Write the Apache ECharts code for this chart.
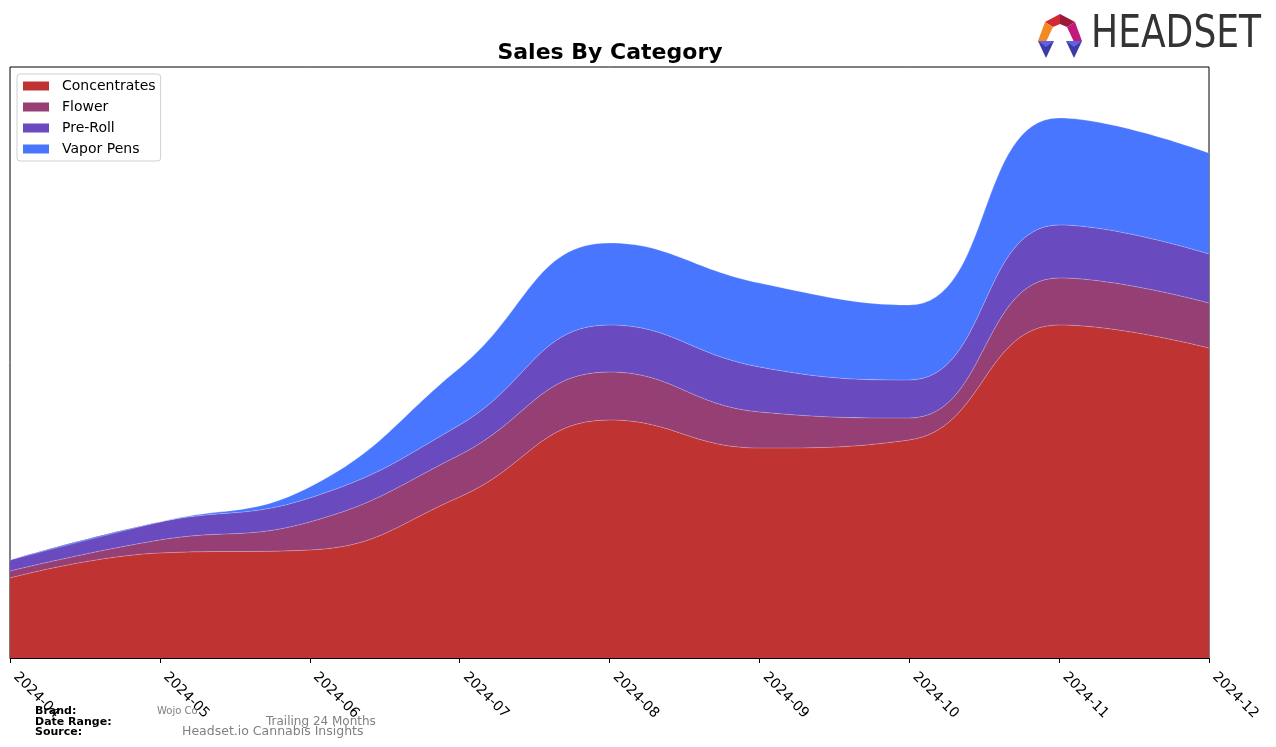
<!DOCTYPE html>
<html>
<head>
<meta charset="utf-8">
<script src="https://cdn.jsdelivr.net/npm/echarts@6/dist/echarts.min.js"></script>
<style>
  html, body { margin: 0; padding: 0; background: #fff; }
  #chart { width: 1276px; height: 747px; }
</style>
</head>
<body>
<div id="chart"></div>
<script>
// monthly points
const months = ['2024-04', '2024-05', '2024-06', '2024-07', '2024-08',
    '2024-09', '2024-10', '2024-11', '2024-12']
const concentrates = [8000, 10500, 10800, 16100, 23800, 21000, 21800, 33300, 31000]
const flower = [700, 1300, 2800, 4200, 4800, 3600, 2200, 4700, 4500]
const preRoll = [1100, 1800, 2400, 3000, 4700, 4500, 3800, 5300, 4900]
const vaporPens = [0, 0, 1100, 5700, 8200, 8400, 7500, 10700, 10100]

const seriesNames = ['Concentrates', 'Flower', 'Pre-Roll', 'Vapor Pens']
const seriesColors = ['#c03333', '#963f74', '#6a4bbf', '#4876ff']

const chart = echarts.init(document.getElementById('chart'))

const makeSeries = (name, values, color) => ({
    name: name,
    type: 'line',
    stack: 'sales',
    smooth: 0.45,
    showSymbol: false,
    lineStyle: { width: 0.7, color: 'rgba(255,255,255,0.35)' },
    itemStyle: { color: color },
    areaStyle: { color: color, opacity: 1 },
    data: values,
})

const footerText = (text, x, y, style) => ({
    type: 'text',
    left: x,
    top: y,
    style: Object.assign({ text: text, fontFamily: 'DejaVu Sans' }, style),
    z: 100,
})

chart.setOption({
    animation: false,
    title: {
        text: 'Sales By Category',
        left: 605,
        top: 37,
        textAlign: 'center',
        textStyle: {
            fontFamily: 'DejaVu Sans',
            fontSize: 22,
            fontWeight: 'bold',
            color: '#000',
        },
    },
    legend: {
        orient: 'vertical',
        left: 17,
        top: 74,
        padding: [5, 5, 5, 6],
        itemGap: 7,
        itemWidth: 26,
        itemHeight: 9,
        icon: 'rect',
        backgroundColor: 'rgba(255,255,255,0.8)',
        borderColor: '#d0d0d0',
        borderWidth: 1,
        borderRadius: 3,
        textStyle: {
            fontFamily: 'DejaVu Sans',
            fontSize: 14,
            lineHeight: 14,
            color: '#000',
            padding: [0, 0, 0, 8],
        },
        data: seriesNames,
    },
    grid: {
        left: 10,
        top: 67,
        width: 1199,
        height: 591,
        show: true,
        borderColor: '#000',
        borderWidth: 1,
        backgroundColor: 'transparent',
    },
    xAxis: {
        type: 'category',
        boundaryGap: false,
        data: months,
        axisLine: { lineStyle: { color: '#000', width: 1 } },
        axisTick: {
            show: true,
            length: 5,
            lineStyle: { color: '#000' },
        },
        axisLabel: {
            rotate: -45,
            margin: 11,
            padding: [0, 0, 0, 8],
            interval: 0,
            fontFamily: 'DejaVu Sans',
            fontSize: 14,
            color: '#000',
        },
        splitLine: { show: false },
    },
    yAxis: {
        type: 'value',
        min: 0,
        max: 59100,
        show: false,
        splitLine: { show: false },
    },
    series: [
        makeSeries(seriesNames[0], concentrates, seriesColors[0]),
        makeSeries(seriesNames[1], flower, seriesColors[1]),
        makeSeries(seriesNames[2], preRoll, seriesColors[2]),
        makeSeries(seriesNames[3], vaporPens, seriesColors[3]),
    ],
    graphic: [
        // HEADSET logo
        {
            type: 'group',
            left: 1038,
            top: 14,
            children: [
                { type: 'polygon', shape: { points: [[8, 8], [23, 0], [23, 10], [16, 13]] }, style: { fill: '#d12a35' } },
                { type: 'polygon', shape: { points: [[23, 0], [38, 8], [30, 13], [23, 10]] }, style: { fill: '#9c1a3c' } },
                { type: 'polygon', shape: { points: [[38, 8], [45, 27], [37, 28], [30, 13]] }, style: { fill: '#c01a7a' } },
                { type: 'polygon', shape: { points: [[8, 8], [16, 13], [9, 28], [1, 27]] }, style: { fill: '#f28a24' } },
                { type: 'polygon', shape: { points: [[1, 27], [17, 27], [9, 44]] }, style: { fill: '#3b3ba8' } },
                { type: 'polygon', shape: { points: [[1, 27], [17, 27], [9, 33]] }, style: { fill: '#6060e0' } },
                { type: 'polygon', shape: { points: [[29, 27], [45, 27], [37, 44]] }, style: { fill: '#3b3ba8' } },
                { type: 'polygon', shape: { points: [[29, 27], [45, 27], [37, 33]] }, style: { fill: '#6060e0' } },
            ],
        },
        {
            type: 'text',
            left: 1091,
            top: 14,
            scaleX: 0.82,
            style: {
                text: 'HEADSET',
                fontFamily: 'DejaVu Sans',
                fontSize: 44,
                fill: '#333',
            },
        },
        // footer
        footerText('Brand:', 35, 706, { fontSize: 11, fontWeight: 'bold', fill: '#000' }),
        footerText('Date Range:', 35, 717, { fontSize: 11, fontWeight: 'bold', fill: '#000' }),
        footerText('Source:', 35, 727, { fontSize: 11, fontWeight: 'bold', fill: '#000' }),
        footerText('Wojo Co', 157, 706, { fontSize: 10, fill: '#808080' }),
        footerText('Trailing 24 Months', 266, 716, { fontSize: 12, fill: '#808080' }),
        footerText('Headset.io Cannabis Insights', 182, 725, { fontSize: 12.5, fill: '#808080' }),
    ],
})
</script>
</body>
</html>
